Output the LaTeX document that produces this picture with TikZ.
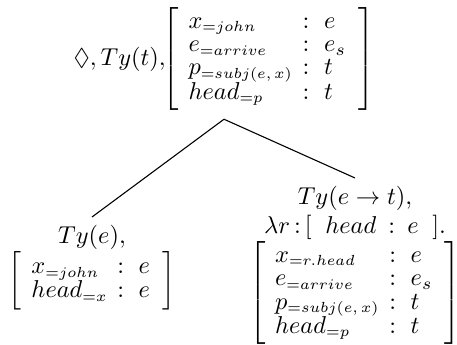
\documentclass[tikz,border=0pt]{standalone}
\usepackage{amsmath,amssymb}
\usetikzlibrary{positioning}
\tikzset{tynode/.style={align=center,inner sep=3pt},
  branch/.style={draw=black,line width=0.45pt}}
\renewcommand{\arraystretch}{0.8}
\delimiterfactor=1000 \delimitershortfall=-2.5pt
\newcommand{\lab}[1]{_{\mbox{\fontsize{6}{6}\selectfont$#1$}}}
\newcommand{\rec}[1]{\left[\begin{array}{@{\hspace{4pt}}l@{\hspace{4pt}}c@{\hspace{6pt}}l@{\hspace{5pt}}}#1\end{array}\right]}

\begin{document}
\begin{tikzpicture}[x=0.41pt,y=0.41pt]
\useasboundingbox (0,0) rectangle (457,345);
% root
\node[tynode] (top) at (224,286)
  {$\Diamond, Ty(t),\hspace{-3pt} \rec{x\lab{{=}john} & : & e\\ e\lab{{=}arrive} & : & e_s\\
   p\lab{{=}subj(e,x)} & : & t\\ head\lab{{=}p} & : & t}$};
\coordinate[below=0.5pt of top.south] (apex);
% daughters
\node[tynode,anchor=north] (arg) at (92,128)
  {$Ty(e),$\\ $\rec{x\lab{{=}john} & : & e\\ head\lab{{=}x} & : & e}$};
\node[tynode,anchor=north] (fun) at (355,167)
  {$Ty(e\rightarrow t),$\\
   $\lambda r\,{:}\,[\;\; head\ \,{:}\ \, e\;\;].$\\
   $\rec{x\lab{{=}r.head} & : & e\\ e\lab{{=}arrive} & : & e_s\\
   p\lab{{=}subj(e,x)} & : & t\\ head\lab{{=}p} & : & t}$};
\draw[branch] (apex) -- (arg.north);
\draw[branch] (apex) -- (fun.north);
\end{tikzpicture}
\end{document}
